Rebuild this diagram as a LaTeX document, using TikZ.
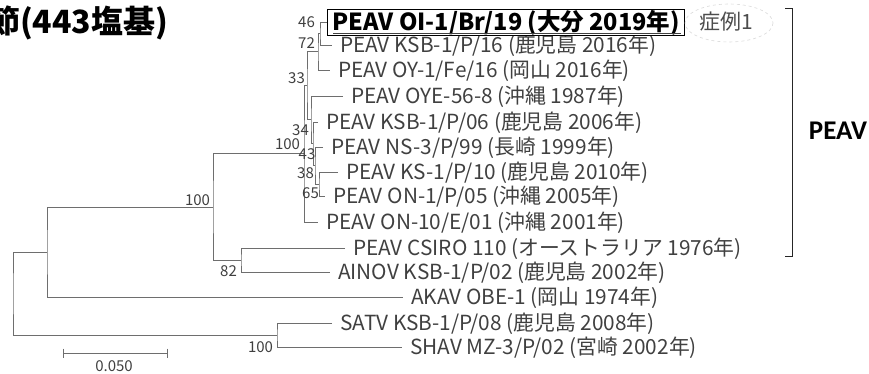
\documentclass[tikz,border=0pt]{standalone}
\usepackage{fontspec}
\setmainfont{Noto Sans CJK JP}
\newfontfamily\calfont{Carlito}
\usetikzlibrary{calc}
\definecolor{lc}{HTML}{6E6E6E}
\definecolor{tc}{HTML}{404040}
\newcommand\clade[3]{\draw[br] (#2) -| (#1) |- (#3);}
\begin{document}
\begin{tikzpicture}[x=1pt,y=-1pt,
  br/.style={draw=lc, line width=0.9pt},
  leaf/.style={anchor=west, inner xsep=8pt, inner ysep=0pt, text height=15pt, text depth=0pt, text=tc, font=\fontsize{20.8}{20.8}\selectfont},
  bs/.style={text=tc, inner sep=0pt, font=\fontsize{15}{15}\selectfont},
  casebox/.style={anchor=west, draw=black, line width=1.3pt, inner xsep=5pt, inner ysep=0pt, minimum height=26pt, text height=17pt, text depth=0pt, font=\bfseries\fontsize{23.5}{23.5}\selectfont}]
\useasboundingbox (0,0) rectangle (869,374);

% leaves
\node[casebox] (l1) at (327,22.5) {PEAV OI-1/Br/19 (大分 2019年)};
\node[leaf] (l2) at (332,45) {PEAV KSB-1/P/16 (鹿児島 2016年)};
\node[leaf] (l3) at (330,70) {PEAV OY-1/Fe/16 (岡山 2016年)};
\node[leaf] (l4) at (343,96) {PEAV OYE-56-8 (沖縄 1987年)};
\node[leaf] (l5) at (318,122) {PEAV KSB-1/P/06 (鹿児島 2006年)};
\node[leaf] (l6) at (323,147) {PEAV NS-3/P/99 (長崎 1999年)};
\node[leaf] (l7) at (338,172) {PEAV KS-1/P/10 (鹿児島 2010年)};
\node[leaf] (l8) at (325,196) {PEAV ON-1/P/05 (沖縄 2005年)};
\node[leaf] (l9) at (318,222) {PEAV ON-10/E/01 (沖縄 2001年)};
\node[leaf] (l10) at (345,248) {PEAV CSIRO 110 (オーストラリア 1976年)};
\node[leaf] (l11) at (330,272) {AINOV KSB-1/P/02 (鹿児島 2002年)};
\node[leaf] (l12) at (403,297) {AKAV OBE-1 (岡山 1974年)};
\node[leaf] (l13) at (332,323) {SATV KSB-1/P/08 (鹿児島 2008年)};
\node[leaf] (l14) at (402,347) {SHAV MZ-3/P/02 (宮崎 2002年)};

% internal nodes
\coordinate (n46) at (320,33.75);
\coordinate (n72) at (318,51.9);
\coordinate (n65) at (319,184);
\coordinate (n38) at (315,165.5);
\coordinate (n43) at (313,143.75);
\coordinate (n34) at (311,119.9);
\coordinate (n33) at (307,85.9);
\coordinate (n100) at (304,153.95);
\coordinate (n82) at (241,260);
\coordinate (n213) at (213,207);
\coordinate (n47) at (47,252);
\coordinate (n277) at (277,335);
\coordinate (root) at (13,293.5);

\clade{n46}{l1.west}{l2.west}
\clade{n72}{n46}{l3.west}
\clade{n65}{l7.west}{l8.west}
\clade{n38}{l6.west}{n65}
\clade{n43}{l5.west}{n38}
\clade{n34}{l4.west}{n43}
\clade{n33}{n72}{n34}
\clade{n100}{n33}{l9.west}
\clade{n82}{l10.west}{l11.west}
\clade{n213}{n100}{n82}
\clade{n47}{n213}{l12.west}
\clade{n277}{l13.west}{l14.west}
\clade{root}{n47}{n277}

% redraw box on top
\node[casebox, fill=white] (l1b) at (327,22.5) {PEAV OI-1/Br/19 (大分 2019年)};
\draw[line width=0.9pt, black!75] ($(l1b.south west)+(6,-3)$) -- ($(l1b.south east)+(-4,-3)$);

% bootstrap values
\node[bs] (b46) at (306.5,22) {46};
\node[bs] (b72) at (306.5,43) {72};
\node[bs] (b33) at (296.5,78) {33};
\node[bs] (b34) at (300.5,130) {34};
\node[bs] (b100a) at (287.5,144) {100};
\node[bs] (b43) at (307,154) {43};
\node[bs] (b38) at (305.5,173) {38};
\node[bs] (b65) at (310.5,193) {65};
\node[bs] (b100b) at (197.5,200) {100};
\node[bs] (b82) at (228.5,271) {82};
\node[bs] (b100c) at (260.5,347) {100};

% scale bar
\coordinate (sb1) at (63,353);
\coordinate (sb2) at (167,353);
\draw[br] (sb1) -- (sb2);
\draw[br] ($(sb1)+(0,-4.5)$) -- ($(sb1)+(0,4.5)$);
\draw[br] ($(sb2)+(0,-4.5)$) -- ($(sb2)+(0,4.5)$);
\node[bs] (sbl) at (114,366) {0.050};

% title (cut at left edge)
\node[anchor=base west, inner sep=0pt, font=\bfseries\fontsize{32}{32}\selectfont] (title) at (-12,34) {節(443塩基)};

% case label
\node[text=black!70, inner sep=0pt, font=\fontsize{21}{21}\selectfont] (case) at (726,22) {症例1};
\draw[black!15, dashed, line width=0.6pt] (729,23) ellipse [x radius=44, y radius=19];

% PEAV bracket
\coordinate (bk1) at (792,8);
\coordinate (bk2) at (792,256);
\draw[line width=0.9pt, black!85] ($(bk1)+(-7,0)$) -- (bk1) -- (bk2) -- ($(bk2)+(-7,0)$);
\node[font=\calfont\bfseries\fontsize{27}{27}\selectfont, inner sep=0pt] (peav) at (838,131) {PEAV};
\end{tikzpicture}
\end{document}
